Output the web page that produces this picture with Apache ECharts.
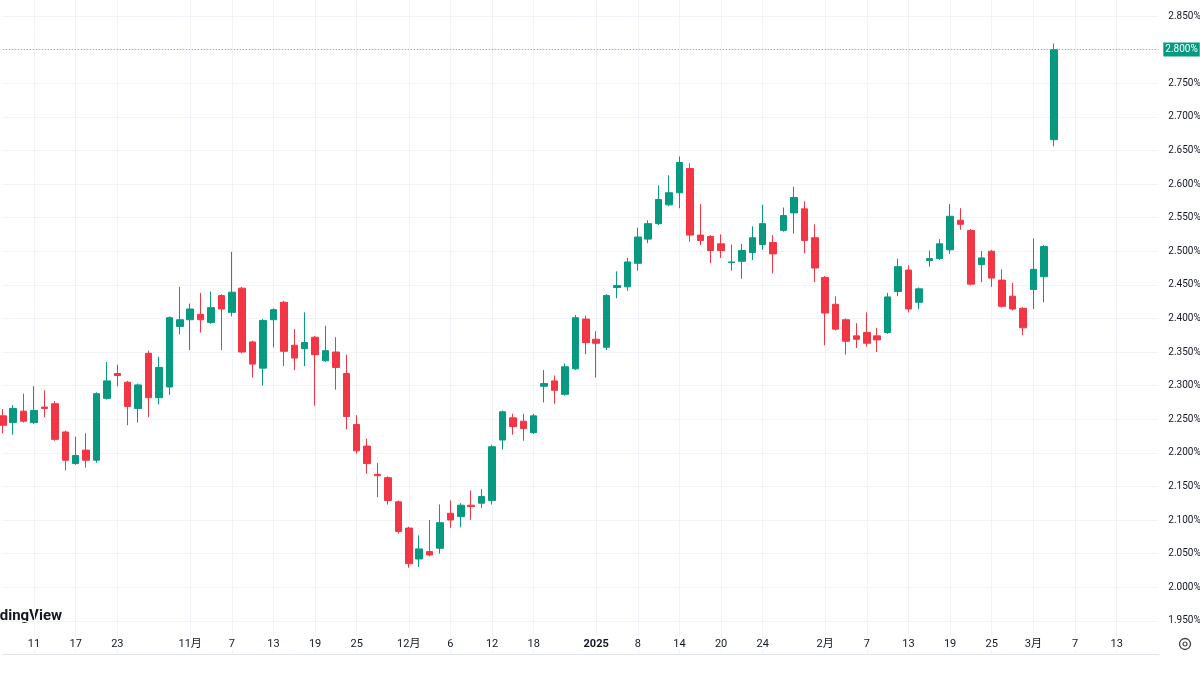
<!DOCTYPE html>
<html lang="zh-cn">
<head>
<meta charset="utf-8">
<script src="https://cdn.jsdelivr.net/npm/echarts@6/dist/echarts.min.js"></script>
<style>
  html, body { margin: 0; padding: 0; background: #fff; }
  #main { width: 1200px; height: 675px; }
</style>
</head>
<body>
<div id="main"></div>
<script type="text/javascript">
// trading days with a candle
var dates = [
  '2024-10-08','2024-10-09','2024-10-10','2024-10-11','2024-10-14','2024-10-15','2024-10-16','2024-10-17','2024-10-18',
  '2024-10-21','2024-10-22','2024-10-23','2024-10-24','2024-10-25','2024-10-28','2024-10-29','2024-10-30','2024-10-31',
  '2024-11-01','2024-11-04','2024-11-05','2024-11-06','2024-11-07','2024-11-08','2024-11-11','2024-11-12','2024-11-13',
  '2024-11-14','2024-11-15','2024-11-18','2024-11-19','2024-11-20','2024-11-21','2024-11-22','2024-11-25','2024-11-26',
  '2024-11-27','2024-11-28','2024-11-29',
  '2024-12-02','2024-12-03','2024-12-04','2024-12-05','2024-12-06','2024-12-09','2024-12-10','2024-12-11','2024-12-12',
  '2024-12-13','2024-12-16','2024-12-17','2024-12-18','2024-12-19','2024-12-20','2024-12-23','2024-12-27','2024-12-30',
  '2025-01-02','2025-01-03','2025-01-06','2025-01-07','2025-01-08','2025-01-09','2025-01-10','2025-01-13','2025-01-14',
  '2025-01-15','2025-01-16','2025-01-17','2025-01-20','2025-01-21','2025-01-22','2025-01-23','2025-01-24','2025-01-27',
  '2025-01-28','2025-01-29','2025-01-30','2025-01-31',
  '2025-02-03','2025-02-04','2025-02-05','2025-02-06','2025-02-07','2025-02-10','2025-02-11','2025-02-12','2025-02-13',
  '2025-02-14','2025-02-17','2025-02-18','2025-02-19','2025-02-20','2025-02-21','2025-02-24','2025-02-25','2025-02-26',
  '2025-02-27','2025-02-28',
  '2025-03-03','2025-03-04','2025-03-05'
];
// empty space on the right side of the chart
var futureDates = [
  '2025-03-06','2025-03-07','2025-03-10','2025-03-11','2025-03-12','2025-03-13','2025-03-14','2025-03-17','2025-03-18','2025-03-19'
];

// [open, close, low, high]  (%)
var candles = [
  [2.255, 2.241, 2.229, 2.265], [2.245, 2.266, 2.227, 2.271], [2.262, 2.247, 2.245, 2.288], [2.245, 2.263, 2.243, 2.299],
  [2.268, 2.266, 2.253, 2.293], [2.273, 2.220, 2.218, 2.277], [2.231, 2.189, 2.174, 2.233], [2.184, 2.196, 2.182, 2.224],
  [2.204, 2.189, 2.178, 2.229], [2.189, 2.288, 2.185, 2.290], [2.281, 2.307, 2.279, 2.335], [2.318, 2.315, 2.299, 2.331],
  [2.305, 2.269, 2.241, 2.307], [2.266, 2.301, 2.245, 2.303], [2.348, 2.282, 2.253, 2.352], [2.282, 2.327, 2.272, 2.343],
  [2.298, 2.401, 2.286, 2.403], [2.388, 2.398, 2.376, 2.447],
  [2.398, 2.414, 2.353, 2.422], [2.406, 2.398, 2.379, 2.438], [2.394, 2.416, 2.392, 2.440], [2.434, 2.414, 2.353, 2.436],
  [2.409, 2.439, 2.403, 2.499], [2.445, 2.350, 2.348, 2.447], [2.365, 2.332, 2.312, 2.367], [2.326, 2.397, 2.300, 2.399],
  [2.398, 2.413, 2.357, 2.415], [2.424, 2.351, 2.329, 2.426], [2.360, 2.341, 2.323, 2.384], [2.355, 2.364, 2.329, 2.409],
  [2.372, 2.346, 2.270, 2.374], [2.337, 2.352, 2.335, 2.389], [2.350, 2.327, 2.294, 2.372], [2.318, 2.254, 2.235, 2.346],
  [2.242, 2.203, 2.199, 2.256], [2.210, 2.184, 2.169, 2.221], [2.168, 2.166, 2.134, 2.185], [2.163, 2.129, 2.123, 2.165],
  [2.127, 2.083, 2.080, 2.129],
  [2.088, 2.035, 2.029, 2.090], [2.042, 2.057, 2.030, 2.077], [2.053, 2.048, 2.046, 2.100], [2.058, 2.096, 2.050, 2.123],
  [2.110, 2.100, 2.088, 2.129], [2.105, 2.122, 2.089, 2.125], [2.122, 2.120, 2.100, 2.144], [2.125, 2.135, 2.118, 2.146],
  [2.129, 2.209, 2.123, 2.212], [2.219, 2.261, 2.205, 2.263], [2.252, 2.239, 2.227, 2.258], [2.247, 2.236, 2.218, 2.258],
  [2.230, 2.255, 2.228, 2.258], [2.299, 2.303, 2.275, 2.323], [2.307, 2.293, 2.273, 2.315], [2.287, 2.328, 2.285, 2.333],
  [2.325, 2.401, 2.323, 2.405], [2.399, 2.364, 2.347, 2.404],
  [2.369, 2.363, 2.312, 2.381], [2.357, 2.434, 2.353, 2.436], [2.446, 2.449, 2.430, 2.470], [2.447, 2.484, 2.441, 2.490],
  [2.482, 2.521, 2.471, 2.535], [2.518, 2.541, 2.512, 2.546], [2.541, 2.577, 2.539, 2.598], [2.569, 2.587, 2.567, 2.613],
  [2.587, 2.632, 2.564, 2.641], [2.623, 2.524, 2.514, 2.631], [2.524, 2.516, 2.509, 2.570], [2.522, 2.501, 2.482, 2.524],
  [2.511, 2.501, 2.490, 2.525], [2.483, 2.484, 2.471, 2.510], [2.485, 2.501, 2.459, 2.511], [2.498, 2.520, 2.487, 2.537],
  [2.510, 2.541, 2.502, 2.569], [2.513, 2.496, 2.467, 2.524], [2.531, 2.553, 2.529, 2.565], [2.557, 2.580, 2.526, 2.596],
  [2.563, 2.516, 2.497, 2.574], [2.520, 2.475, 2.454, 2.540],
  [2.461, 2.408, 2.360, 2.463], [2.421, 2.384, 2.382, 2.433], [2.398, 2.366, 2.346, 2.400], [2.374, 2.369, 2.356, 2.393],
  [2.379, 2.363, 2.358, 2.409], [2.374, 2.368, 2.350, 2.386], [2.379, 2.432, 2.377, 2.438], [2.440, 2.477, 2.433, 2.489],
  [2.472, 2.414, 2.409, 2.479], [2.424, 2.444, 2.414, 2.446], [2.486, 2.489, 2.477, 2.501], [2.489, 2.511, 2.487, 2.518],
  [2.502, 2.552, 2.496, 2.570], [2.546, 2.540, 2.532, 2.564], [2.531, 2.451, 2.449, 2.533], [2.480, 2.490, 2.454, 2.500],
  [2.500, 2.460, 2.447, 2.502], [2.457, 2.418, 2.416, 2.473], [2.433, 2.414, 2.412, 2.453], [2.415, 2.386, 2.375, 2.417],
  [2.443, 2.473, 2.414, 2.519], [2.462, 2.507, 2.424, 2.509], [2.666, 2.800, 2.656, 2.809]
];

// time axis labels
var tickDates = [
  '2024-10-11','2024-10-17','2024-10-23','2024-11-01','2024-11-07','2024-11-13','2024-11-19','2024-11-25',
  '2024-12-02','2024-12-06','2024-12-12','2024-12-18','2025-01-02','2025-01-08','2025-01-14','2025-01-20',
  '2025-01-24','2025-02-03','2025-02-07','2025-02-13','2025-02-19','2025-02-25','2025-03-03','2025-03-07','2025-03-13'
];
var tickTexts = [
  '11','17','23','11月','7','13','19','25',
  '12月','6','12','18','2025','8','14','20',
  '24','2月','7','13','19','25','3月','7','13'
];

var UP = '#089981', DOWN = '#F23645', GRID = '#f0f3fa', TEXT = '#131722';
var FONT = 'Roboto, "Noto Sans CJK SC", sans-serif';

var categories = dates.concat(futureDates);
var lastClose = candles[candles.length - 1][1];

function isTick(index) {
  return tickDates.indexOf(categories[index]) >= 0;
}

var chart = echarts.init(document.getElementById('main'));

chart.setOption({
  animation: false,
  backgroundColor: '#fff',
  // the plot reaches past the top edge so that 2.850% sits near the top like in TradingView
  grid: { left: 2.8, right: 41.7, top: -17.6, bottom: 20.6, outerBoundsMode: 'none', containLabel: false },
  xAxis: {
    type: 'category',
    data: categories,
    boundaryGap: false,
    axisLine: { show: true, lineStyle: { color: '#e0e3eb' } },
    axisTick: { show: false },
    axisLabel: {
      inside: true,
      margin: 4,
      interval: function (index) { return isTick(index); },
      formatter: function (value) {
        var t = tickTexts[tickDates.indexOf(value)];
        return t === '2025' ? '{b|' + t + '}' : t;
      },
      rich: { b: { fontWeight: 'bold', fontSize: 11, color: TEXT, fontFamily: FONT } },
      color: TEXT,
      fontSize: 11,
      fontFamily: FONT,
      backgroundColor: '#fff',
      padding: [1, 3]
    },
    splitLine: {
      show: true,
      interval: function (index) { return isTick(index); },
      lineStyle: { color: GRID, width: 1 }
    }
  },
  yAxis: {
    type: 'value',
    position: 'right',
    min: 1.9,
    max: 2.9,
    interval: 0.05,
    axisLine: { show: false },
    axisTick: { show: false },
    axisLabel: {
      margin: 10,
      color: TEXT,
      fontSize: 10,
      fontFamily: FONT,
      formatter: function (v) {
        // the last price tag replaces the regular label at that level
        if (v < 1.925 || Math.abs(v - lastClose) < 1e-6) return '';
        return v.toFixed(3) + '%';
      }
    },
    splitLine: { lineStyle: { color: GRID, width: 1 } }
  },
  graphic: [
    {
      type: 'text', x: 62, y: 616, silent: true,
      style: { text: 'TradingView', align: 'right', verticalAlign: 'middle', fill: '#131722',
               font: 'bold 15px ' + FONT }
    },
    {
      type: 'circle', x: 1185, y: 644, silent: true,
      shape: { r: 5.5 }, style: { fill: 'none', stroke: '#444', lineWidth: 1.3 }
    },
    {
      type: 'circle', x: 1185, y: 644, silent: true,
      shape: { r: 2 }, style: { fill: 'none', stroke: '#444', lineWidth: 1.2 }
    }
  ],
  series: [{
    type: 'candlestick',
    data: candles,
    barWidth: 7,
    clip: false,
    itemStyle: {
      color: UP, color0: DOWN,
      borderColor: UP, borderColor0: DOWN,
      borderWidth: 1
    },
    markLine: {
      silent: true,
      symbol: ['none', 'none'],
      data: [{ yAxis: lastClose, lineStyle: { color: '#4fb8a5' } }],
      lineStyle: { type: [1, 2], color: '#4fb8a5', width: 1 },
      label: {
        show: true,
        position: 'end',
        distance: 5,
        formatter: lastClose.toFixed(3) + '%',
        color: '#fff',
        backgroundColor: UP,
        fontSize: 10,
        fontFamily: FONT,
        padding: [2, 2, 2, 2]
      }
    }
  }]
});
</script>
</body>
</html>
